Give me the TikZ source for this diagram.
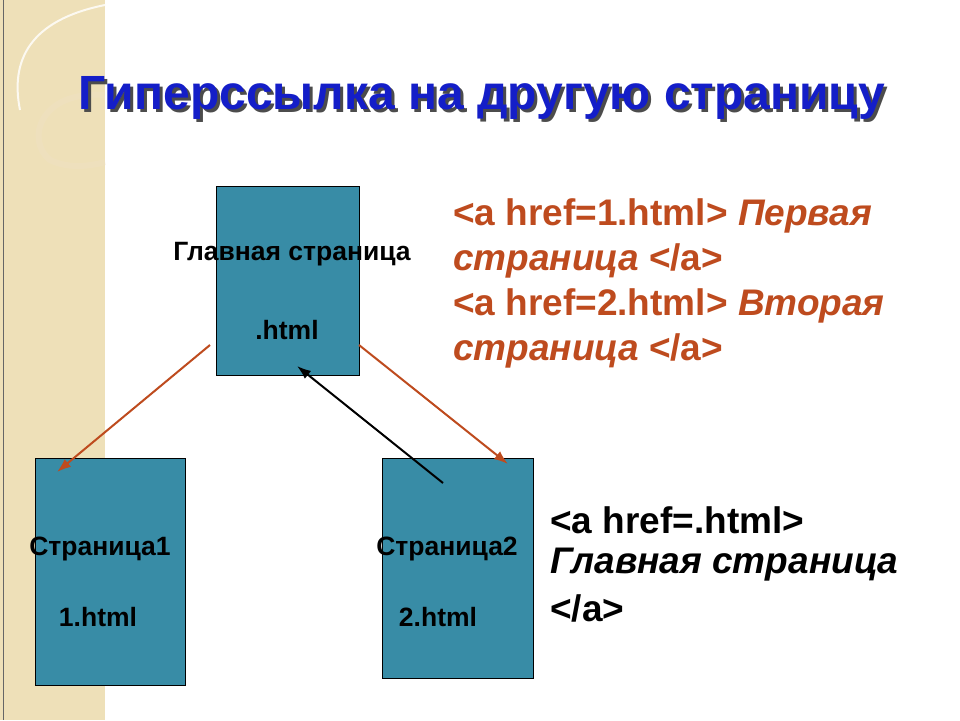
\documentclass[tikz,border=0pt]{standalone}
\usepackage{fontspec}
\setmainfont{Liberation Sans}
\usetikzlibrary{arrows.meta}
\definecolor{boxc}{RGB}{56,140,166}
\definecolor{codec}{RGB}{190,75,30}
\definecolor{titlec}{RGB}{20,30,200}
\definecolor{beige}{RGB}{238,224,184}
\tikzset{
 page/.style={draw=black,fill=boxc,line width=0.8pt},
 lbl/.style={font=\bfseries\fontsize{26.5}{30}\selectfont,inner sep=0pt},
 code/.style={font=\bfseries\fontsize{37}{40}\selectfont,inner sep=0pt,anchor=west},
 redarr/.style={draw=codec,line width=2pt,-{Latex[length=14pt,width=10pt]}},
 blkarr/.style={draw=black,line width=2pt,-{Latex[length=14pt,width=10pt]}}
}
\begin{document}
\begin{tikzpicture}[x=1pt,y=-1pt]
\useasboundingbox (0,0) rectangle (960,720);
\fill[white] (0,0) rectangle (960,720);
\fill[beige] (0,0) rectangle (105,720);
\draw[white!80!beige,line width=2pt] (105,5) .. controls (30,20) and (10,60) .. (20,110);
\draw[beige!80!brown!60,line width=6pt,opacity=0.4] (105,95) .. controls (40,90) and (25,140) .. (50,160) .. controls (70,170) and (95,165) .. (105,162);
\draw[black!60] (3,0) -- (3,720);
\node[font=\bfseries\fontsize{48}{52}\selectfont,text=black!70,inner sep=0pt] at (485,101) {Гиперссылка на другую страницу};
\node[font=\bfseries\fontsize{48}{52}\selectfont,text=titlec,inner sep=0pt] (title) at (482,98) {Гиперссылка на другую страницу};
\path[page] (216,186) rectangle (359,375);
\path[page] (35,458) rectangle (185,685);
\path[page] (382,458) rectangle (533,678);
\node[lbl] (mainl) at (292,254) {Главная страница};
\node[lbl] (mainh) at (287,330) {.html};
\node[lbl] (p1l) at (100,549) {Страница1};
\node[lbl] (p1h) at (98,617) {1.html};
\node[lbl] (p2l) at (447,549) {Страница2};
\node[lbl] (p2h) at (438,617) {2.html};
\coordinate (a1s) at (210,345); \coordinate (a1e) at (57,472);
\coordinate (a2s) at (359,345); \coordinate (a2e) at (508,464);
\coordinate (a3s) at (443,483); \coordinate (a3e) at (297,366);
\draw[redarr] (a1s) -- (a1e);
\draw[redarr] (a2s) -- (a2e);
\draw[blkarr] (a3s) -- (a3e);
\node[code,text=codec] (c1) at (453,216) {<a href=1.html> \itshape Первая};
\node[code,text=codec] (c2) at (453,261) {\itshape страница \upshape </a>};
\node[code,text=codec] (c3) at (453,306) {<a href=2.html> \itshape Вторая};
\node[code,text=codec] (c4) at (453,351) {\itshape страница \upshape </a>};
\node[code] (d1) at (550,520) {<a href=.html>};
\node[code] (d2) at (550,565) {\itshape Главная страница};
\node[code] (d3) at (550,608) {</a>};
\end{tikzpicture}
\end{document}
